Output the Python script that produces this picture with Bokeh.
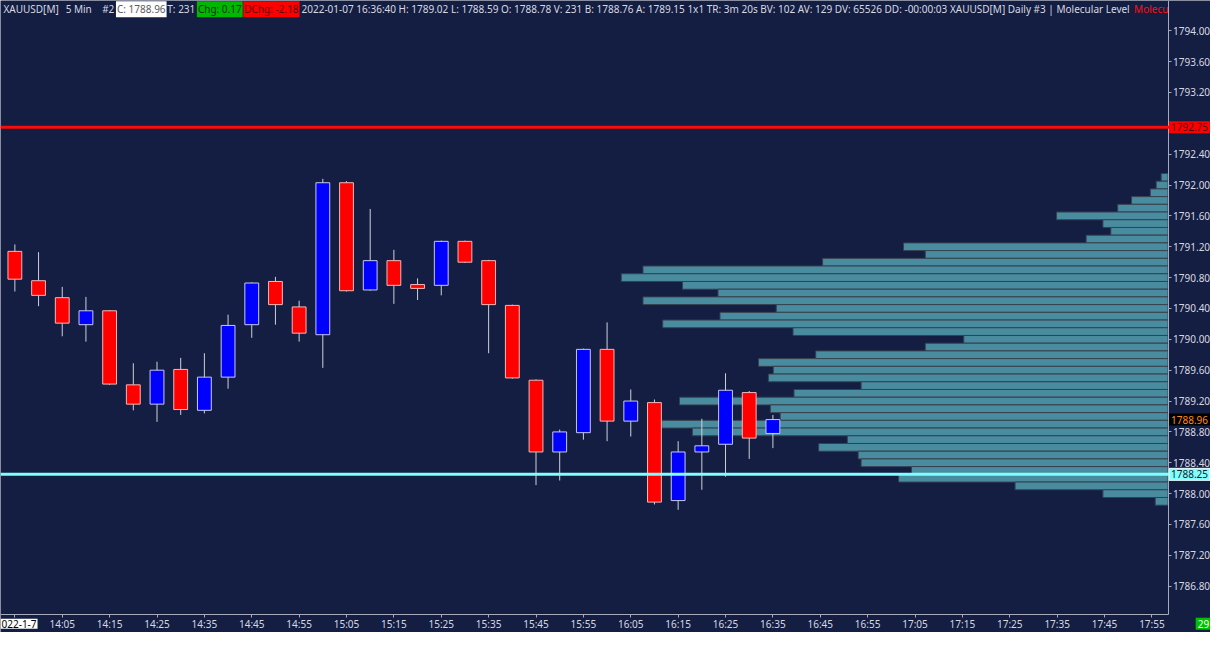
import datetime as dt
from bokeh.plotting import figure
from bokeh.models import (Range1d, FixedTicker, DatetimeTickFormatter, PrintfTickFormatter,
                          Span, Label, ColumnDataSource)
from bokeh.embed import file_html
from bokeh.resources import INLINE

# ---------------- data ----------------
day = "2022-01-07"
times = ["13:55", "14:00", "14:05", "14:10", "14:15", "14:20", "14:25", "14:30", "14:35",
         "14:40", "14:45", "14:50", "14:55", "15:00", "15:05", "15:10", "15:15", "15:20",
         "15:25", "15:30", "15:35", "15:40", "15:45", "15:50", "15:55", "16:00", "16:05",
         "16:10", "16:15", "16:20", "16:25", "16:30", "16:35"]
opens = [1791.14, 1790.76, 1790.54, 1790.19, 1790.37, 1789.41, 1789.16, 1789.61, 1789.08,
         1789.51, 1790.19, 1790.75, 1790.42, 1790.06, 1792.03, 1790.64, 1791.02, 1790.71,
         1790.70, 1791.27, 1791.02, 1790.44, 1789.47, 1788.54, 1788.79, 1789.87, 1788.94,
         1789.18, 1787.91, 1788.54, 1788.64, 1789.31, 1788.78]
highs = [1791.23, 1791.13, 1790.68, 1790.55, 1790.38, 1789.69, 1789.71, 1789.76, 1789.82,
         1790.32, 1790.74, 1790.81, 1790.50, 1792.08, 1792.05, 1791.69, 1791.16, 1790.79,
         1791.28, 1791.28, 1791.03, 1790.45, 1789.48, 1788.83, 1789.88, 1790.22, 1789.35,
         1789.22, 1788.68, 1788.97, 1789.56, 1789.33, 1789.02]
lows = [1790.62, 1790.43, 1790.04, 1789.97, 1789.41, 1789.08, 1788.93, 1789.02, 1789.04,
        1789.36, 1790.02, 1790.19, 1789.97, 1789.63, 1790.62, 1790.63, 1790.46, 1790.51,
        1790.57, 1790.99, 1789.82, 1789.49, 1788.11, 1788.17, 1788.70, 1788.68, 1788.74,
        1787.86, 1787.79, 1788.05, 1788.22, 1788.45, 1788.59]
closes = [1790.78, 1790.57, 1790.21, 1790.37, 1789.42, 1789.16, 1789.60, 1789.09, 1789.51,
          1790.18, 1790.73, 1790.45, 1790.08, 1792.03, 1790.63, 1791.02, 1790.70, 1790.66,
          1791.27, 1791.00, 1790.45, 1789.50, 1788.54, 1788.80, 1789.87, 1788.94, 1789.20,
          1787.89, 1788.54, 1788.62, 1789.34, 1788.72, 1788.96]

profile_prices = [1792.1, 1792.0, 1791.9, 1791.8, 1791.7, 1791.6, 1791.5, 1791.4, 1791.3,
                  1791.2, 1791.1, 1791.0, 1790.9, 1790.8, 1790.7, 1790.6, 1790.5, 1790.4,
                  1790.3, 1790.2, 1790.1, 1790.0, 1789.9, 1789.8, 1789.7, 1789.6, 1789.5,
                  1789.4, 1789.3, 1789.2, 1789.1, 1789.0, 1788.9, 1788.8, 1788.7, 1788.6,
                  1788.5, 1788.4, 1788.3, 1788.2, 1788.1, 1788.0, 1787.9]
profile_volumes = [7, 12, 18, 37, 51, 113, 66, 58, 83, 268, 246, 350, 532, 554, 492, 456,
                   532, 397, 454, 512, 380, 207, 246, 357, 415, 400, 405, 311, 379, 495,
                   403, 393, 513, 482, 325, 354, 314, 311, 260, 273, 155, 66, 13]

y_ticks = [1786.8, 1787.2, 1787.6, 1788.0, 1788.4, 1788.8, 1789.2, 1789.6, 1790.0,
           1790.4, 1790.8, 1791.2, 1791.6, 1792.0, 1792.4, 1793.2, 1793.6, 1794.0]
x_tick_times = ["13:55", "14:05", "14:15", "14:25", "14:35", "14:45", "14:55", "15:05",
                "15:15", "15:25", "15:35", "15:45", "15:55", "16:05", "16:15", "16:25",
                "16:35", "16:45", "16:55", "17:05", "17:15", "17:25", "17:35", "17:45",
                "17:55"]

resistance_level = 1792.75
support_level = 1788.25
last_price = 1788.96
date_label = "022-1-7"
countdown = "29"

header_main = ("2022-01-07 16:36:40 H: 1789.02 L: 1788.59 O: 1788.78 V: 231 B: 1788.76 "
               "A: 1789.15 1x1 TR: 3m 20s BV: 102 AV: 129 DV: 65526 DD: -00:00:03 "
               "XAUUSD[M]  Daily  #3 | Molecular Level")

# ---------------- helpers ----------------
def ts(hm):
    return dt.datetime.strptime(day + " " + hm, "%Y-%m-%d %H:%M")

def ms(d):
    return (d - dt.datetime(1970, 1, 1)).total_seconds() * 1000.0

W, H = 1210, 632
SX = W / 1226.0
SY = H / 648.0

BG = "#131E42"
TXT = "#D8D8E0"
AXC = "#A8AABC"
FONT = "Noto Sans"

x_dt = [ts(t) for t in times]
up = [c >= o for o, c in zip(opens, closes)]

def src(mask):
    d = dict(x=[], top=[], bottom=[])
    for x, o, c, m in zip(x_dt, opens, closes, mask):
        if m:
            d["x"].append(x)
            d["top"].append(max(o, c))
            d["bottom"].append(min(o, c))
    return ColumnDataSource(d)

up_src = src(up)
dn_src = src([not u for u in up])
wick_src = ColumnDataSource(dict(x=x_dt, high=highs, low=lows))
vp_src = ColumnDataSource(dict(y=profile_prices, v=profile_volumes))

# view window (whole canvas is the frame; axes sit at fixed locations inside it)
x_start = ts("13:55") - dt.timedelta(seconds=182)
x_end = ts("18:05") + dt.timedelta(seconds=142)
x_axis_end = ts("17:55") + dt.timedelta(seconds=205)
y_top = 1794.392
y_bottom = 1786.200
y_axis_bottom = 1786.427

p = figure(width=W, height=H, x_axis_type="datetime", y_axis_location="right",
           output_backend="svg", toolbar_location=None, title=None,
           x_range=Range1d(x_start, x_end), y_range=Range1d(y_bottom, y_top),
           min_border_left=0, min_border_top=0, min_border_right=0, min_border_bottom=0,
           background_fill_color=BG, border_fill_color=BG, outline_line_color=None)
p.grid.visible = False
p.extra_x_ranges = {"vp": Range1d(start=1183, end=1183 - 1226)}

# volume profile
p.hbar(y="y", height=0.1, left=0, right="v", x_range_name="vp", source=vp_src,
       fill_color="#4A8C9F", line_color="#37404F", line_width=1)

# candles
p.segment(x0="x", y0="low", x1="x", y1="high", source=wick_src,
          line_color="#D0D0DA", line_width=1)
bw = 175000
p.vbar(x="x", width=bw, top="top", bottom="bottom", source=up_src,
       fill_color="#0000FF", line_color="#C8C8F4", line_width=1)
p.vbar(x="x", width=bw, top="top", bottom="bottom", source=dn_src,
       fill_color="#FF0000", line_color="#F4B8B8", line_width=1)

# level lines
p.add_layout(Span(location=resistance_level, dimension="width", line_color="#FF0A0A", line_width=3))
p.add_layout(Span(location=support_level, dimension="width", line_color="#7FFFFF", line_width=3))

# axes
for ax in (p.yaxis[0], p.xaxis[0]):
    ax.axis_line_color = AXC
    ax.major_tick_line_color = AXC
    ax.major_tick_out = 3
    ax.major_tick_in = 0
    ax.minor_tick_out = 0
    ax.minor_tick_in = 0
    ax.major_label_standoff = 2
    ax.major_label_text_font = FONT
    ax.major_label_text_font_size = "10px"
    ax.major_label_text_color = TXT

p.yaxis[0].ticker = FixedTicker(ticks=y_ticks)
p.yaxis[0].formatter = PrintfTickFormatter(format="%.2f")
p.yaxis[0].fixed_location = ms(x_axis_end)
p.yaxis[0].bounds = (y_axis_bottom, y_top)

xt = [ms(ts(t)) for t in x_tick_times]
p.xaxis[0].ticker = FixedTicker(ticks=xt)
p.xaxis[0].formatter = DatetimeTickFormatter(minutes="%H:%M", hourmin="%H:%M", hours="%H:%M")
p.xaxis[0].major_label_overrides = {xt[0]: ""}
p.xaxis[0].fixed_location = y_axis_bottom
p.xaxis[0].bounds = (ms(x_start), ms(x_axis_end))
p.xaxis[0].major_label_standoff = -1

# ---------------- labels ----------------
AX_X = 1183 * SX  # screen x of price axis line

def lab(text, x, y, color=TXT, bg=None, units_y="screen", size="10px", pad=0, border=None):
    l = Label(x=x, y=y, x_units="screen", y_units=units_y, text=text,
              text_font=FONT, text_font_size=size, text_color=color,
              text_align="left", text_baseline="middle",
              background_fill_color=bg, border_line_color=border, padding=pad)
    p.add_layout(l)

hy = H - 9 * SY
lab("XAUUSD[M]", 3 * SX, hy)
lab("5 Min", 66 * SX, hy)
lab("#2", 103 * SX, hy)
lab("C: 1788.96", 117 * SX, hy, color="#5A5A5A", bg="#FFFFFF", pad=1)
lab("T: 231", 169 * SX, hy)
lab("Chg: 0.17", 199 * SX, hy, color="#0A300A", bg="#00B800", pad=1)
lab("DChg: -2.18", 246 * SX, hy, color="#5C0000", bg="#FF0000", pad=1)
lab(header_main, 305 * SX, hy)
lab("Molecu", AX_X - 34, hy, color="#FF1010")

# right-axis price tags
lab("1792.75", AX_X + 1, resistance_level, color="#4A0000", bg="#FF0000", units_y="data", pad=2)
lab("1788.96", AX_X + 1, last_price, color="#FF8C1A", bg="#000000", units_y="data", pad=2)
lab("1788.25", AX_X + 1, support_level, color="#1A1A2A", bg="#80FFFF", units_y="data", pad=2,
    border="#E8FFFF")

# bottom tags
lab(date_label, 0, (648 - 639) * SY, color="#000000", bg="#FFFFFF", pad=1)
lab(countdown, 1211 * SX, (648 - 639) * SY, color="#F0FFF0", bg="#00C000", pad=2)

open("out.html", "w").write(file_html(p, INLINE))
